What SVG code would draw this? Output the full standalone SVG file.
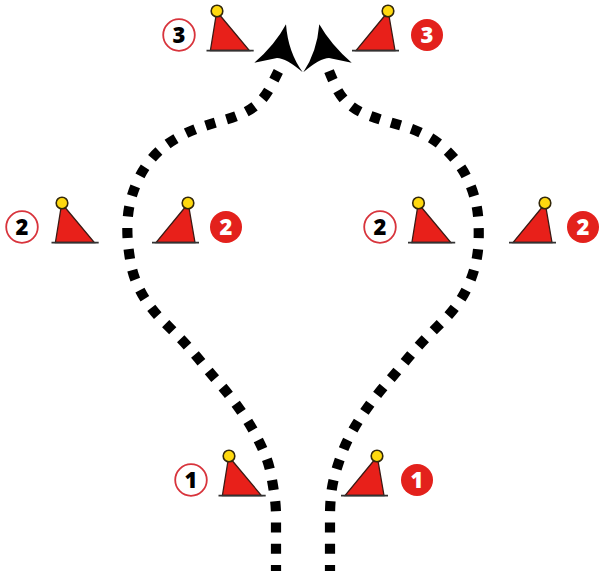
<svg xmlns="http://www.w3.org/2000/svg" width="599" height="571" viewBox="0 0 599 571">
<style>
.b{fill:#e8201a;stroke:#3a1a14;stroke-width:1.3}
.l{stroke:#333;stroke-width:1.6;fill:none}
.c{fill:#ffd90f;stroke:#33280a;stroke-width:1.6}
.o{fill:#fff;stroke:#d8343c;stroke-width:1.8}
.r{fill:#e3211c}
.t{font:800 22px "Open Sans","Noto Sans",sans-serif;text-anchor:middle}
.d{fill:none;stroke:#000;stroke-width:10.2;stroke-dasharray:10 11.3}
</style>
<defs>
<g id="bl"><path class="b" d="M3.500 5L-1 5L-6.600 39.500L32.400 39.500Z"/><path class="l" d="M-10.500 39.600H36.700"/><circle class="c" cx="0" cy="0" r="5.800"/></g>
<g id="br"><path class="b" d="M-3.500 5L1 5L7 39.500L-32 39.500Z"/><path class="l" d="M-36 39.600H11"/><circle class="c" cx="0" cy="0" r="5.800"/></g>
</defs>
<rect width="599" height="571" fill="#fff"/>
<g id="connectors">
<path class="d" d="M276 575L276 516Q276 506 274.5 495.5Q273 485 271 474.5Q269 464 265 454.5Q261 445 256 435.5Q251 426 245 417Q239 408 232.5 399.5Q226 391 219 383Q212 375 205 366.5Q198 358 191 350Q184 342 176.5 334.5Q169 327 161.5 319.5Q154 312 148 303.5Q142 295 137.5 285Q133 275 131 264.5Q129 254 128 243.5Q127 233 127.5 222Q128 211 130.5 201Q133 191 137.5 181Q142 171 148.5 162.5Q155 154 163 147.5Q171 141 180.5 136Q190 131 200 127.5Q210 124 221 121Q232 118 241.5 114Q251 110 258.5 103Q266 96 271 86Q276 76 278.5 71"/>
<path class="d" d="M330 575L330 516Q330 506 331 495.5Q332 485 335 474.5Q338 464 341.5 454.5Q345 445 350 435.5Q355 426 361 417Q367 408 373.5 399.5Q380 391 387 383Q394 375 401 366.5Q408 358 415 350Q422 342 429.5 334.5Q437 327 444.5 319.5Q452 312 458 303.5Q464 295 468.5 285Q473 275 475.5 264.5Q478 254 478.5 243.5Q479 233 478.5 222Q478 211 475.5 201Q473 191 468.5 181Q464 171 457.5 162.5Q451 154 443 147Q435 140 425.5 135Q416 130 406 127Q396 124 385.5 121Q375 118 365 114Q355 110 347.5 103Q340 96 335.5 86Q331 76 329 71"/>
<path d="M286 24.300Q288 52 302.700 72.300Q286 58 277 58L254.300 62.700Q275 45 286 24.300Z"/>
<path d="M319.300 24.300Q317 52 303.300 72.300Q320 58 329 58L351.700 62.700Q331 45 319.300 24.300Z"/>
</g>
<g id="n3l"><circle class="o" cx="179" cy="35" r="15.800"/><text class="t" x="179" y="43">3</text><use href="#bl" x="217" y="11"/></g>
<g id="n3r"><use href="#br" x="388" y="11"/><circle class="r" cx="427" cy="35" r="16"/><text class="t" x="427" y="43" fill="#fff">3</text></g>
<g id="n2a"><circle class="o" cx="22" cy="227" r="15.800"/><text class="t" x="22" y="235">2</text><use href="#bl" x="62" y="203"/></g>
<g id="n2b"><use href="#br" x="188" y="203"/><circle class="r" cx="226" cy="227" r="16"/><text class="t" x="226" y="235" fill="#fff">2</text></g>
<g id="n2c"><circle class="o" cx="380" cy="227" r="15.800"/><text class="t" x="380" y="235">2</text><use href="#bl" x="418.500" y="203"/></g>
<g id="n2d"><use href="#br" x="545" y="203"/><circle class="r" cx="583" cy="227" r="16"/><text class="t" x="583" y="235" fill="#fff">2</text></g>
<g id="n1l"><circle class="o" cx="191" cy="480" r="15.800"/><text class="t" x="191" y="488">1</text><use href="#bl" x="229" y="456"/></g>
<g id="n1r"><use href="#br" x="377" y="456"/><circle class="r" cx="417" cy="480" r="16"/><text class="t" x="417" y="488" fill="#fff">1</text></g>
</svg>
